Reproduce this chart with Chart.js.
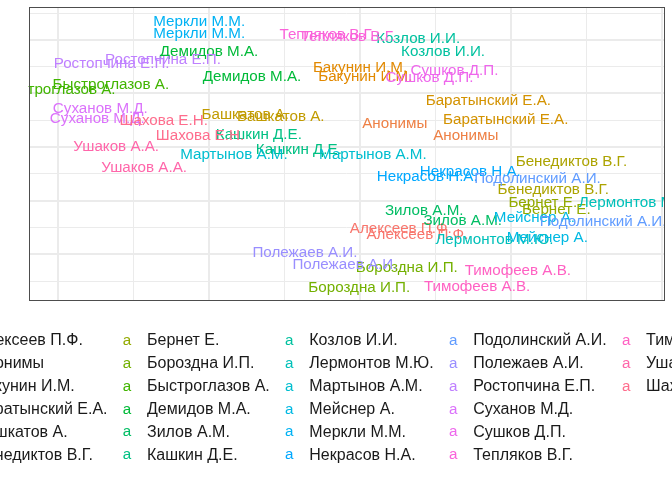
<!DOCTYPE html>
<html><head><meta charset="utf-8">
<script src="https://cdn.jsdelivr.net/npm/chart.js@4/dist/chart.umd.min.js"></script>
<style>html,body{margin:0;padding:0;background:#fff;}#wrap{width:672px;height:480px;}</style>
</head><body><div id="wrap"><canvas id="c" width="672" height="480"></canvas></div>
<script>
const authors = ["Алексеев П.Ф.","Анонимы","Бакунин И.М.","Баратынский Е.А.","Башкатов А.","Бенедиктов В.Г.","Бернет Е.","Бороздна И.П.","Быстроглазов А.","Демидов М.А.","Зилов А.М.","Кашкин Д.Е.","Козлов И.И.","Лермонтов М.Ю.","Мартынов А.М.","Мейснер А.","Меркли М.М.","Некрасов Н.А.","Подолинский А.И.","Полежаев А.И.","Ростопчина Е.П.","Суханов М.Д.","Сушков Д.П.","Тепляков В.Г.","Тимофеев А.В.","Ушаков А.А.","Шахова Е.Н."];
const x1 = [4.54,4.46,4.00,5.70,2.48,6.80,6.42,4.62,0.70,2.00,4.85,2.66,4.77,7.68,2.33,6.31,1.87,5.46,6.35,3.27,1.39,0.56,5.25,3.56,6.09,0.77,1.40];
const y1 = [1.94,5.88,7.94,6.73,6.19,4.43,2.90,0.51,7.31,8.56,2.61,5.45,9.02,2.90,4.70,2.37,9.68,4.08,3.83,1.07,8.25,6.43,7.84,9.18,0.38,5.01,5.97];
const x2 = [4.76,5.40,4.07,5.93,2.95,6.56,6.60,3.99,-0.01,2.57,5.36,3.19,5.10,5.78,4.17,6.48,1.87,4.89,7.22,3.80,0.71,0.52,4.92,3.84,5.55,1.14,1.88];
const y2 = [1.72,5.41,7.62,6.01,6.13,3.42,2.65,-0.27,7.13,7.62,2.25,4.89,8.56,1.53,4.70,1.63,9.24,3.89,2.21,0.60,8.12,6.07,7.60,9.12,-0.21,4.21,5.41];

function hcl2hex(h, c, l) {
  const hr = h * Math.PI / 180;
  const u = c * Math.cos(hr), v = c * Math.sin(hr);
  const Xn = 95.047, Yn = 100, Zn = 108.883;
  const den = Xn + 15 * Yn + 3 * Zn;
  const un = 4 * Xn / den, vn = 9 * Yn / den;
  const Y = Yn * Math.pow((l + 16) / 116, 3);
  const up = u / (13 * l) + un, vp = v / (13 * l) + vn;
  const X = Y * 9 * up / (4 * vp);
  const Z = Y * (12 - 3 * up - 20 * vp) / (4 * vp);
  const x = X / 100, y = Y / 100, z = Z / 100;
  let r = 3.2404542 * x - 1.5371385 * y - 0.4985314 * z;
  let g = -0.9692660 * x + 1.8760108 * y + 0.0415560 * z;
  let b = 0.0556434 * x - 0.2040259 * y + 1.0572252 * z;
  const gam = t => { t = t <= 0.0031308 ? 12.92 * t : 1.055 * Math.pow(t, 1 / 2.4) - 0.055; return Math.round(Math.min(1, Math.max(0, t)) * 255); };
  return '#' + [gam(r), gam(g), gam(b)].map(q => q.toString(16).padStart(2, '0')).join('');
}
const n = authors.length;
const colors = authors.map((a, i) => hcl2hex(15 + i * 360 / n, 100, 65));

const FONT = '"Liberation Sans", Arial, sans-serif';
const PLOT_PX = 15.2;
const LEG_PX = 16;

const textPlugin = {
  id: 'textLabels',
  afterDatasetsDraw(chart) {
    const ctx = chart.ctx, a = chart.chartArea;
    ctx.save();
    ctx.beginPath(); ctx.rect(a.left, a.top, a.right - a.left, a.bottom - a.top); ctx.clip();
    ctx.font = PLOT_PX + 'px ' + FONT;
    ctx.textAlign = 'center'; ctx.textBaseline = 'middle';
    chart.data.datasets.forEach((ds, i) => {
      const meta = chart.getDatasetMeta(i);
      ctx.fillStyle = ds.backgroundColor;
      meta.data.forEach(el => ctx.fillText(ds.label, el.x, el.y));
    });
    ctx.restore();
    ctx.save();
    ctx.strokeStyle = '#4d4d4d'; ctx.lineWidth = 1;
    ctx.strokeRect(Math.round(a.left) + 0.5, Math.round(a.top) + 0.5, Math.round(a.right - a.left) - 1, Math.round(a.bottom - a.top) - 1);
    ctx.restore();
  }
};

const legendPlugin = {
  id: 'ggLegend',
  afterDraw(chart) {
    const ctx = chart.ctx;
    ctx.save();
    const rows = 6, cols = Math.ceil(n / rows);
    ctx.font = LEG_PX + 'px ' + FONT;
    const maxW = [];
    for (let c = 0; c < cols; c++) {
      let m = 0;
      for (let r = 0; r < rows; r++) { const k = c * rows + r; if (k < n) m = Math.max(m, ctx.measureText(authors[k]).width); }
      maxW.push(m);
    }
    const keyX = [];
    keyX[1] = 127;
    keyX[0] = keyX[1] - 20 - maxW[0] - 19.5;
    for (let c = 2; c < cols; c++) keyX[c] = keyX[c - 1] + 20 + maxW[c - 1] + 19.5;
    ctx.textBaseline = 'middle';
    for (let c = 0; c < cols; c++) {
      for (let r = 0; r < rows; r++) {
        const k = c * rows + r; if (k >= n) continue;
        const y = 340.7 + r * 22.9;
        ctx.font = PLOT_PX + 'px ' + FONT;
        ctx.textAlign = 'center'; ctx.fillStyle = colors[k];
        ctx.fillText('a', keyX[c], y);
        ctx.font = LEG_PX + 'px ' + FONT;
        ctx.textAlign = 'left'; ctx.fillStyle = '#1a1a1a';
        ctx.fillText(authors[k], keyX[c] + 20, y);
      }
    }
    ctx.restore();
  }
};

const datasets = authors.map((a, i) => ({
  label: a,
  data: [{x: x1[i], y: y1[i]}, {x: x2[i], y: y2[i]}],
  pointRadius: 0, pointHoverRadius: 0,
  backgroundColor: colors[i], borderColor: colors[i]
}));

function axis(majorParity, min, max) {
  return {
    type: 'linear', min, max, display: true,
    ticks: {display: false, stepSize: 1, includeBounds: false},
    grid: {
      color: '#ebebeb', drawTicks: false, tickLength: 0,
      lineWidth: ctx => (ctx.tick && Math.abs(Math.round(ctx.tick.value)) % 2 === majorParity) ? 2 : 1
    },
    border: {display: false},
    afterFit(s) { if (s.isHorizontal()) s.height = 0; else s.width = 0; }
  };
}

new Chart(document.getElementById('c'), {
  type: 'scatter',
  data: {datasets},
  options: {
    responsive: false, animation: false,
    layout: {padding: {left: 28.5, right: 8, top: 7, bottom: 179}},
    plugins: {legend: {display: false}, tooltip: {enabled: false}},
    scales: {
      x: axis(0, -0.391, 8.026),
      y: axis(1, -0.746, 10.224)
    }
  },
  plugins: [textPlugin, legendPlugin]
});
</script>
</body></html>
